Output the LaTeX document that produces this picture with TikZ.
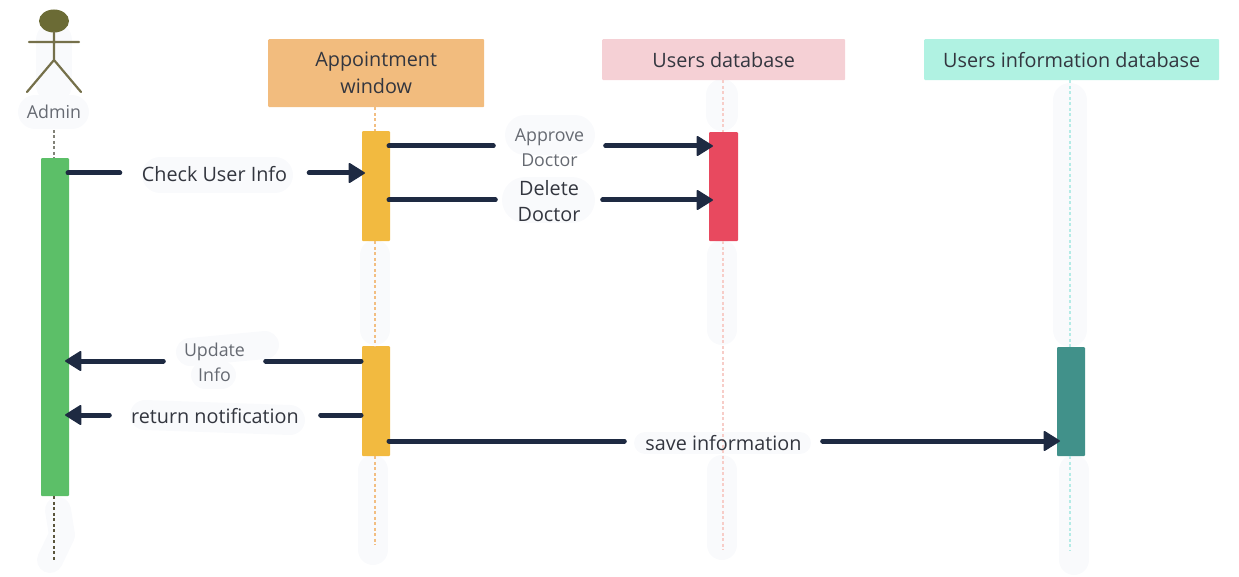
\documentclass[tikz,border=0pt]{standalone}
\usepackage{fontspec}
\setmainfont{Open Sans}
\usetikzlibrary{arrows.meta}
\definecolor{ink}{HTML}{1E2A42}
\definecolor{blob}{HTML}{F9FAFC}
\definecolor{txt}{HTML}{33363F}
\definecolor{gtxt}{HTML}{666A72}
\definecolor{cwin}{RGB}{242,188,126}
\definecolor{cudb}{RGB}{245,208,213}
\definecolor{cidb}{RGB}{176,242,226}
\definecolor{chead}{RGB}{107,107,53}
\definecolor{cstick}{RGB}{117,112,74}
\definecolor{cgreen}{RGB}{92,191,104}
\definecolor{cyellow}{RGB}{242,186,64}
\definecolor{cred}{RGB}{232,73,95}
\definecolor{cteal}{RGB}{65,145,138}
\definecolor{ltop}{RGB}{130,130,120}
\definecolor{lbot}{RGB}{90,85,60}
\definecolor{lwin}{RGB}{242,190,130}
\definecolor{ludb}{RGB}{247,205,200}
\definecolor{lidb}{RGB}{180,235,230}
\tikzset{
  x=1pt,y=-1pt,
  act/.style={draw=none,inner sep=0pt,minimum width=#1,anchor=north},
  hdr/.style={inner sep=0pt,align=center,text=txt,font=\fontsize{19.8}{27}\selectfont},
  msg/.style={draw=ink,line width=5pt,line cap=round},
  msgtip/.style={msg,-{Triangle[round,length=17pt,width=21pt,line width=1.5pt]}},
  lab/.style={inner sep=0pt,align=center,text=txt,font=\fontsize{19.8}{26}\selectfont,minimum height=14pt},
  pale/.style={lab,text=gtxt,font=\fontsize{17.8}{25}\selectfont},
  life/.style={line width=1.3pt,dash pattern=on 3pt off 2.5pt},
  smudge/.style={draw=blob,line cap=round,line join=round},
  stick/.style={draw=cstick,line width=2.2pt,line cap=round}
}
\begin{document}
\begin{tikzpicture}
\useasboundingbox (0,0) rectangle (1239,577);
% pale smudges
\draw[smudge,line width=36pt] (54,40) -- (54,85);
\draw[smudge,line width=34pt] (35,112) -- (72,112);
\draw[smudge,line width=26pt] (58,510) -- (62,535) -- (50,560);
\draw[smudge,line width=30pt] (375,255) -- (375,330);
\draw[smudge,line width=30pt] (373,470) -- (373,550);
\draw[smudge,line width=32pt] (722,95) -- (722,115);
\draw[smudge,line width=30pt] (722,255) -- (722,330);
\draw[smudge,line width=30pt] (722,470) -- (722,545);
\draw[smudge,line width=34pt] (1070,100) -- (1070,330);
\draw[smudge,line width=30pt] (1074,470) -- (1074,560);
\draw[smudge,line width=36pt] (160,175) -- (275,175);
\draw[smudge,line width=40pt] (525,135) -- (575,135);
\draw[smudge,line width=46pt] (525,200) -- (572,200);
\draw[smudge,line width=28pt] (190,352) -- (265,345);
\draw[smudge,line width=28pt] (205,375) -- (222,375);
\draw[smudge,line width=30pt] (145,415) -- (290,420);
\draw[smudge,line width=22pt] (645,443) -- (800,443);
% header boxes
\node[hdr,fill=cwin,rounded corners=1pt,minimum width=216pt,minimum height=68pt,anchor=north west] (win) at (268,39) {Appointment\\window};
\node[hdr,fill=cudb,rounded corners=1pt,minimum width=243pt,minimum height=41pt,anchor=north west] (udb) at (602,39) {Users database};
\node[hdr,fill=cidb,rounded corners=1pt,minimum width=295pt,minimum height=41pt,anchor=north west] (idb) at (924,39) {Users information database};
% actor
\fill[chead] (54,21) ellipse [x radius=15,y radius=11.5];
\coordinate (hip) at (54,60);
\coordinate (neck) at (54,32);
\coordinate (armL) at (29,42);
\coordinate (armR) at (79,42);
\coordinate (footL) at (27,92);
\coordinate (footR) at (81,92);
\draw[stick] (neck) -- (hip) (armL) -- (armR) (footL) -- (hip) -- (footR);
\node[inner sep=0pt,text=gtxt,font=\fontsize{17.8}{20}\selectfont] (admin) at (54,112) {Admin};
% lifeline ends
\coordinate (adminTop) at (54,130);
\coordinate (adminEnd) at (54,562);
\coordinate (winEnd) at (375,545);
\coordinate (udbEnd) at (723,550);
\coordinate (idbEnd) at (1070,550);
% activations
\node[act=28pt,fill=cgreen,rounded corners=1pt,minimum height=338pt] (ga) at (55,158) {};
\node[act=28pt,fill=cyellow,rounded corners=1pt,minimum height=110pt] (ya) at (376,131) {};
\node[act=28pt,fill=cyellow,rounded corners=1pt,minimum height=110pt] (yb) at (376,346) {};
\node[act=29pt,fill=cred,rounded corners=1pt,minimum height=109pt] (ra) at (723.5,132) {};
\node[act=28pt,fill=cteal,rounded corners=1pt,minimum height=109pt] (ta) at (1071,347) {};
% lifelines
\draw[life,draw=ltop] (adminTop) -- (adminTop |- ga.north);
\draw[life,draw=lbot,line width=1.8pt] (adminEnd |- ga.south) -- (adminEnd);
\draw[life,draw=lwin] (win.south -| winEnd) -- (winEnd |- ya.north);
\draw[life,draw=lwin] (winEnd |- ya.south) -- (winEnd |- yb.north);
\draw[life,draw=lwin] (winEnd |- yb.south) -- (winEnd);
\draw[life,draw=ludb] (udb.south -| udbEnd) -- (udbEnd |- ra.north);
\draw[life,draw=ludb] (udbEnd |- ra.south) -- (udbEnd);
\draw[life,draw=lidb] (idb.south -| idbEnd) -- (idbEnd |- ta.north);
\draw[life,draw=lidb] (idbEnd |- ta.south) -- (idbEnd);
% labels (width = gap in the connector)
\node[lab,minimum width=189pt] (l1) at (214.5,174) {Check User Info};
\node[pale,minimum width=112pt] (l2) at (549.5,147.5) {Approve\\Doctor};
\node[lab,minimum width=107pt] (l3) at (549,201) {Delete\\Doctor};
\node[pale,minimum width=102pt] (l4) at (214.5,362) {Update\\Info};
\node[lab,minimum width=211pt] (l5) at (215,416) {return notification};
\node[lab,minimum width=198pt] (l6) at (723.5,443) {save information};
% anchor points on the activations
\coordinate (p1) at (68,173);
\coordinate (q1) at (365,173);
\coordinate (p2) at (389,146);
\coordinate (q2) at (713,146);
\coordinate (p3) at (389,200);
\coordinate (q3) at (713,200);
\coordinate (p4) at (361,361);
\coordinate (q4) at (65,361);
\coordinate (p5) at (361,415);
\coordinate (q5) at (65,415);
\coordinate (p6) at (389,441);
\coordinate (q6) at (1060,441);
% connectors
\draw[msg] (p1) -- (l1.west |- p1);
\draw[msgtip] (l1.east |- p1) -- (q1);
\draw[msg] (p2) -- (l2.west |- p2);
\draw[msgtip] (l2.east |- p2) -- (q2);
\draw[msg] (p3) -- (l3.west |- p3);
\draw[msgtip] (l3.east |- p3) -- (q3);
\draw[msg] (p4) -- (l4.east |- p4);
\draw[msgtip] (l4.west |- p4) -- (q4);
\draw[msg] (p5) -- (l5.east |- p5);
\draw[msgtip] (l5.west |- p5) -- (q5);
\draw[msg] (p6) -- (l6.west |- p6);
\draw[msgtip] (l6.east |- p6) -- (q6);
\end{tikzpicture}
\end{document}
